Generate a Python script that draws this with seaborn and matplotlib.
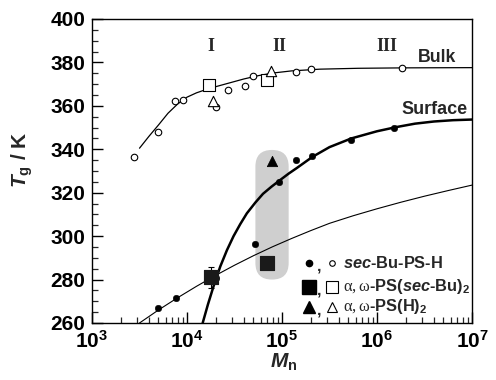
import matplotlib
matplotlib.use("Agg")
import matplotlib.pyplot as plt
import matplotlib.ticker as mticker
from matplotlib.patches import FancyBboxPatch
from matplotlib.transforms import IdentityTransform
import numpy as np
import seaborn as sns

# open symbols: bulk Tg
bulk_circ_M = [2770, 5000, 7500, 9100, 20200, 27000, 41000, 49000, 140000, 204000, 1850000]
bulk_circ_T = [336.3, 348.0, 362.2, 362.9, 359.3, 367.2, 369.1, 373.9, 375.7, 377.0, 377.6]
bulk_sq_M = [17000, 69000]
bulk_sq_T = [369.6, 371.9]
bulk_tri_M = [19000, 77500]
bulk_tri_T = [362.4, 376.0]

# filled symbols: surface Tg
surf_circ_M = [5000, 7600, 20200, 52000, 93000, 141000, 209000, 537000, 1500000]
surf_circ_T = [267.0, 271.3, 280.6, 296.2, 325.1, 335.1, 337.0, 344.3, 350.0]
surf_sq_M = [17800, 70000]
surf_sq_T = [281.0, 287.8]
surf_sq_err = [5.0, 0.0]
surf_tri_M = [78500]
surf_tri_T = [334.7]

# fitted curves (log10 Mn, Tg)
bulk_fit_logM = [3.5, 3.6, 3.7, 3.8, 3.9, 4.0, 4.1, 4.2, 4.3, 4.45, 4.6, 4.75, 4.9, 5.1, 5.4, 5.8, 6.3, 7.0]
bulk_fit_T = [340.5, 346.0, 351.2, 356.6, 360.8, 364.0, 366.0, 367.5, 368.8, 370.6, 372.4, 373.9, 375.1, 376.1, 376.9, 377.3, 377.5, 377.6]
surf_fit_logM = [4.165, 4.22, 4.28, 4.35, 4.42, 4.49, 4.56, 4.63, 4.72, 4.80, 4.89, 4.97, 5.07, 5.16, 5.32, 5.5, 5.73, 6.0, 6.2, 6.4, 6.6, 6.8, 7.0]
surf_fit_T = [260.0, 268.5, 277.0, 286.0, 293.5, 300.0, 305.5, 310.5, 315.5, 319.5, 322.8, 325.5, 328.8, 331.5, 336.5, 341.0, 345.0, 348.3, 350.2, 351.8, 352.8, 353.4, 353.7]
thin_fit_logM = [3.5, 3.7, 3.9, 4.1, 4.3, 4.5, 4.7, 4.9, 5.1, 5.3, 5.5, 5.75, 6.0, 6.25, 6.5, 6.75, 7.0]
thin_fit_T = [260.0, 266.0, 271.6, 276.9, 281.9, 286.6, 291.0, 295.1, 298.9, 302.5, 305.9, 309.4, 312.6, 315.6, 318.4, 321.0, 323.5]

xtick_vals = [1e3, 1e4, 1e5, 1e6, 1e7]
xtick_labels = [r"$\mathbf{10^{3}}$", r"$\mathbf{10^{4}}$", r"$\mathbf{10^{5}}$",
                r"$\mathbf{10^{6}}$", r"$\mathbf{10^{7}}$"]
ytick_vals = [260, 280, 300, 320, 340, 360, 380, 400]

sns.set_style("ticks")
plt.rcParams['font.family'] = ['Liberation Sans', 'DejaVu Sans']
plt.rcParams['mathtext.fontset'] = 'custom'
plt.rcParams['mathtext.rm'] = 'Liberation Serif'
plt.rcParams['mathtext.it'] = 'Liberation Sans:italic:bold'
plt.rcParams['mathtext.bf'] = 'Liberation Sans:bold'

fig = plt.figure(figsize=(4.96, 3.8), dpi=100)
ax = fig.add_axes([92 / 496, 1 - 323 / 380, 380 / 496, 304 / 380])
ax.set_xscale("log")
ax.set_xlim(1e3, 1e7)
ax.set_ylim(260, 400)

# curves
sns.lineplot(x=10 ** np.array(bulk_fit_logM), y=bulk_fit_T, ax=ax, color="black", lw=0.9,
             estimator=None, sort=False, zorder=3)
sns.lineplot(x=10 ** np.array(surf_fit_logM), y=surf_fit_T, ax=ax, color="black", lw=1.8,
             estimator=None, sort=False, zorder=3)
sns.lineplot(x=10 ** np.array(thin_fit_logM), y=thin_fit_T, ax=ax, color="black", lw=0.8,
             estimator=None, sort=False, zorder=3)

# gray capsule
fig.canvas.draw()
p0 = ax.transData.transform((10 ** 4.72, 280.0))
p1 = ax.transData.transform((10 ** 5.07, 339.7))
r = (p1[0] - p0[0]) / 2
cap = FancyBboxPatch((p0[0] + r, p0[1] + r), 0.01, (p1[1] - p0[1]) - 2 * r,
                     boxstyle="round,pad=%f" % r, transform=IdentityTransform(),
                     facecolor="#cfcfcf", edgecolor="none", zorder=1)
ax.add_patch(cap)

# points
sns.scatterplot(x=bulk_circ_M, y=bulk_circ_T, ax=ax, marker="o", s=22, facecolor="white",
                edgecolor="black", linewidth=0.8, zorder=4)
sns.scatterplot(x=bulk_sq_M, y=bulk_sq_T, ax=ax, marker="s", s=85, facecolor="white",
                edgecolor="black", linewidth=0.8, zorder=4)
sns.scatterplot(x=bulk_tri_M, y=bulk_tri_T, ax=ax, marker="^", s=55, facecolor="white",
                edgecolor="black", linewidth=0.8, zorder=5)
sns.scatterplot(x=surf_circ_M, y=surf_circ_T, ax=ax, marker="o", s=22, color="black",
                edgecolor="black", zorder=4)
ax.errorbar(surf_sq_M, surf_sq_T, yerr=surf_sq_err, fmt="none", ecolor="black",
            elinewidth=0.8, capsize=2.5, capthick=0.8, zorder=4)
sns.scatterplot(x=surf_sq_M, y=surf_sq_T, ax=ax, marker="s", s=110, color="#1a1a1a",
                edgecolor="#1a1a1a", zorder=5)
sns.scatterplot(x=surf_tri_M, y=surf_tri_T, ax=ax, marker="^", s=55, color="black",
                edgecolor="black", zorder=5)

# ticks
ax.set_xticks(xtick_vals)
ax.set_xticklabels(xtick_labels, fontsize=15)
ax.xaxis.set_minor_locator(mticker.LogLocator(base=10, subs=np.arange(2, 10), numticks=20))
ax.xaxis.set_minor_formatter(mticker.NullFormatter())
ax.set_yticks(ytick_vals)
ax.set_yticklabels([str(v) for v in ytick_vals], fontsize=15, fontweight="bold")
ax.yaxis.set_minor_locator(mticker.MultipleLocator(5))
ax.tick_params(which="major", direction="in", length=8, width=1, pad=5, colors="black")
ax.tick_params(which="minor", direction="in", length=4.5, width=0.9)
for s in ax.spines.values():
    s.set_linewidth(1.0)
    s.set_color("black")
    s.set_visible(True)


def ax_xy(px, py):
    return ((px - 92) / 380, (323 - py) / 304)


# region labels
for lab, xm in [("I", 10 ** 4.25), ("II", 10 ** 4.97), ("III", 10 ** 6.1)]:
    ax.text(xm, 387.2, lab, family="Liberation Serif", fontweight="bold", fontsize=13,
            ha="center", va="center")
bx, by = ax_xy(456, 57)
ax.text(bx, by, "Bulk", transform=ax.transAxes, fontsize=12.8, fontweight="bold",
        ha="right", va="center")
sx, sy = ax_xy(468, 110)
ax.text(sx, sy, "Surface", transform=ax.transAxes, fontsize=13, fontweight="bold",
        ha="right", va="center")

# legend drawn by hand
rows = [
    (262.7, "o", 4.5, 4.0, r"$\mathit{sec}$-Bu-PS-H"),
    (286.7, "s", 10, 9, r"$\mathrm{\alpha,\omega}$-PS($\mathit{sec}$-Bu)$_\mathbf{2}$"),
    (306.7, "^", 8.5, 7.5, r"$\mathrm{\alpha,\omega}$-PS(H)$_\mathbf{2}$"),
]
for py, mk, ms_f, ms_o, txt in rows:
    x1, y1 = ax_xy(309, py)
    x2, y2 = ax_xy(332, py)
    ax.plot([x1], [y1], marker=mk, ms=ms_f, color="black", transform=ax.transAxes,
            clip_on=False, zorder=6, ls="none")
    ax.plot([x2], [y2], marker=mk, ms=ms_o, mfc="white", mec="black", mew=0.8,
            transform=ax.transAxes, clip_on=False, zorder=6, ls="none")
    xc, yc = ax_xy(319, py + 3)
    ax.text(xc, yc, ",", transform=ax.transAxes, fontsize=11.5, fontweight="bold",
            ha="center", va="center")
    xt, yt = ax_xy(343, py)
    ax.text(xt, yt, txt, transform=ax.transAxes, fontsize=11.8, fontweight="bold",
            ha="left", va="center")

# axis labels
fig.text(22 / 496, 1 - 160 / 380, r"$\mathit{T}_\mathbf{g}$ / K", rotation=90,
         fontsize=15, fontweight="bold", ha="center", va="center")
fig.text(284 / 496, 1 - 362 / 380, r"$\mathit{M}_\mathbf{n}$", fontsize=15,
         ha="center", va="center")

fig.savefig("out.png", dpi=100)
